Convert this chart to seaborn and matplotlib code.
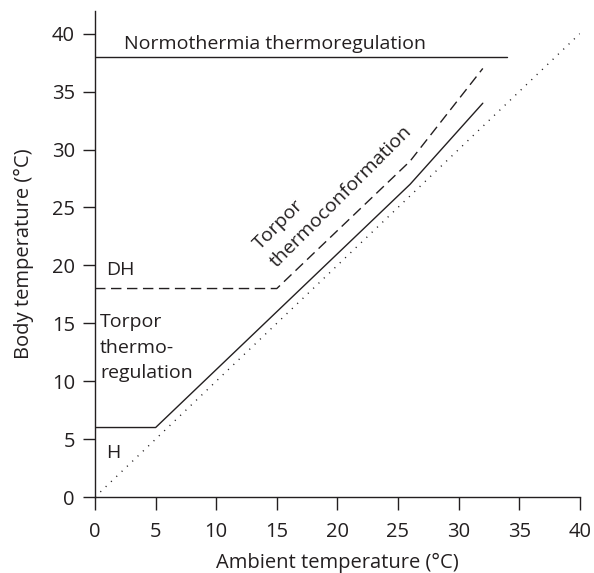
import matplotlib
matplotlib.use("Agg")
import matplotlib.pyplot as plt
import seaborn as sns
import pandas as pd

# Data
normo_x = [0, 34]
normo_y = [38, 38]
dh_x = [0, 15, 26, 32]
dh_y = [18, 18, 29, 37]
h_x = [0, 5, 26, 32]
h_y = [6, 6, 27, 34]
iso_x = [0, 40]
iso_y = [0, 40]
ticks = [0, 5, 10, 15, 20, 25, 30, 35, 40]

sns.set_style("ticks")
plt.rcParams['font.family'] = ['Open Sans', 'DejaVu Sans']
ink = '#231f20'
fs = 14

fig = plt.figure(figsize=(5.94, 5.73), dpi=100)
ax = fig.add_axes([0.16, 0.1326, 0.816, 0.849])

sns.lineplot(x=normo_x, y=normo_y, ax=ax, color=ink, lw=1.0)
sns.lineplot(x=dh_x, y=dh_y, ax=ax, color=ink, lw=1.0, sort=False, estimator=None)
ax.lines[-1].set_dashes([7.5, 4])
sns.lineplot(x=h_x, y=h_y, ax=ax, color=ink, lw=1.0, sort=False, estimator=None)
sns.lineplot(x=iso_x, y=iso_y, ax=ax, color=ink, lw=1.0)
ax.lines[-1].set_dashes([0.8, 4.5])

ax.set_xlim(0, 40)
ax.set_ylim(0, 42)
ax.set_xticks(ticks)
ax.set_yticks(ticks)
ax.set_xticklabels([str(t) for t in ticks])
ax.set_yticklabels([str(t) for t in ticks])
for s in ['top', 'right']:
    ax.spines[s].set_visible(False)
for s in ['left', 'bottom']:
    ax.spines[s].set_color(ink)
    ax.spines[s].set_linewidth(1.0)
ax.tick_params(axis='both', length=9, width=1.0, color=ink, labelsize=14.5, labelcolor=ink)
ax.tick_params(axis='x', pad=9)
ax.tick_params(axis='y', pad=5.5)

ax.set_xlabel("Ambient temperature (°C)", fontsize=14.5, color=ink, labelpad=8)
ax.set_ylabel("Body temperature (°C)", fontsize=14.5, color=ink, labelpad=13)

ax.text(2.4, 39.1, "Normothermia thermoregulation", fontsize=fs, color=ink, va='center', ha='left')
ax.text(0.9, 19.6, "DH", fontsize=fs, color=ink, va='center', ha='left')
ax.text(0.4, 12.9, "Torpor\nthermo-\nregulation", fontsize=fs, color=ink, va='center', ha='left', linespacing=1.55)
ax.text(0.9, 3.8, "H", fontsize=fs, color=ink, va='center', ha='left')
ax.text(19.6, 26.7, "Torpor\nthermoconformation", fontsize=fs, color=ink, va='center', ha='center',
        multialignment='left', rotation=45, rotation_mode='anchor', linespacing=1.45)

fig.savefig("out.png", dpi=100)
